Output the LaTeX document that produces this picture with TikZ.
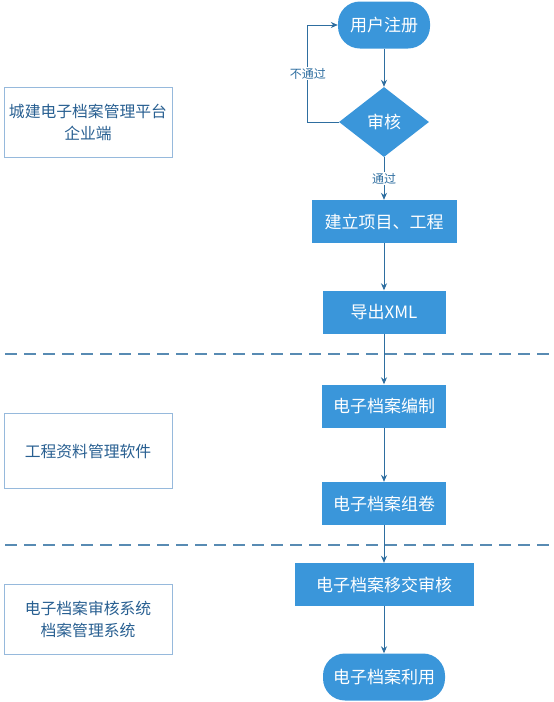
\documentclass[tikz,border=0pt]{standalone}
\usepackage{fontspec}
\setmainfont{Noto Sans CJK SC}
\usepackage{tikz}
\usetikzlibrary{shapes.geometric, positioning, arrows.meta}

\definecolor{boxblue}{RGB}{58,150,218}
\definecolor{linkblue}{RGB}{46,110,160}
\definecolor{sideline}{RGB}{150,185,220}
\definecolor{sidetext}{RGB}{40,95,145}

\begin{document}
\begin{tikzpicture}[x=1pt,y=1pt,on grid,>={Stealth[length=7pt,width=6pt]},
    proc/.style={rectangle,fill=boxblue,text=white,font=\fontsize{17}{20}\selectfont,minimum height=43pt,inner sep=0pt},
    term/.style={proc,rounded corners=22pt,minimum height=47pt},
    check/.style={diamond,fill=boxblue,text=white,font=\fontsize{17}{20}\selectfont,minimum width=90pt,minimum height=70pt,inner sep=0pt},
    side/.style={rectangle,draw=sideline,line width=0.8pt,text=sidetext,font=\fontsize{15.8}{22}\selectfont,align=center,minimum width=168pt,minimum height=70pt},
    link/.style={->,draw=linkblue,line width=0.9pt},
    note/.style={fill=white,text=linkblue,font=\fontsize{12}{14}\selectfont,inner sep=1pt}]
	\useasboundingbox (0,0) rectangle (554,-702);
	\node[term,minimum width=92pt] (reg) at (384,-25)	{用户注册};
	\node[check] (audit) [below=97pt of reg]			{审核};
	\node[proc,minimum width=145pt] (build) [below=99.5pt of audit]	{建立项目、工程};
	\node[proc,minimum width=123pt] (export) [below=90.5pt of build]	{导出XML};
	\node[proc,minimum width=124pt] (compile) [below=94pt of export]	{电子档案编制};
	\node[proc,minimum width=124pt] (volume) [below=97.5pt of compile]	{电子档案组卷};
	\node[proc,minimum width=179pt] (transfer) [below=81pt of volume]	{电子档案移交审核};
	\node[term,minimum width=122pt] (use) [below=92.5pt of transfer]	{电子档案利用};
	% left column
	\node[side] (platform) at (88,-122)	{城建电子档案管理平台\\企业端};
	\node[side,minimum height=75pt] (software) at (88,-451)	{工程资料管理软件};
	\node[side] (system) at (88,-619)	{电子档案审核系统\\档案管理系统};
	% lane borders
	\draw[linkblue!80,line width=1.1pt,dash pattern=on 12pt off 7pt] (5,-354) -- (549,-354);
	\draw[linkblue!80,line width=1.1pt,dash pattern=on 12pt off 7pt] (5,-545) -- (549,-545);
	% flow
	\draw[link] (reg) -- (audit);
	\draw[link] (audit.west) -- ++(-31,0) |- node[note,pos=0.25] {不通过} (reg.west);
	\draw[link] (audit) -- node[note] {通过} (build);
	\draw[link] (build) -- (export);
	\draw[link] (export) -- (compile);
	\draw[link] (compile) -- (volume);
	\draw[link] (volume) -- (transfer);
	\draw[link] (transfer) -- (use);
\end{tikzpicture}
\end{document}
